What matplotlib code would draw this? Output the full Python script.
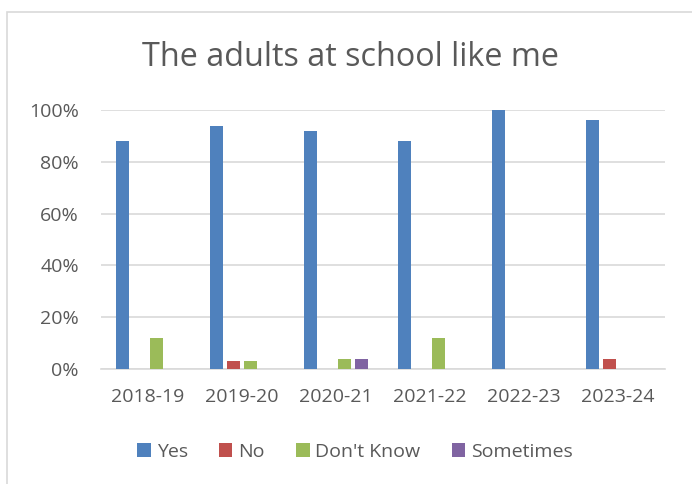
import matplotlib
matplotlib.use("Agg")
import matplotlib.pyplot as plt
import numpy as np
from matplotlib.patches import Rectangle

categories = ["2018-19", "2019-20", "2020-21", "2021-22", "2022-23", "2023-24"]
series_names = ["Yes", "No", "Don't Know", "Sometimes"]
yes = [88, 94, 92, 88, 100, 96]
no = [0, 3, 0, 0, 0, 4]
dont_know = [12, 3, 4, 12, 0, 0]
sometimes = [0, 0, 4, 0, 0, 0]
colors = ["#4f81bd", "#c0504d", "#9bbb59", "#8064a2"]
yticks = [0, 20, 40, 60, 80, 100]

plt.rcParams['font.family'] = ['Open Sans', 'DejaVu Sans']
fig = plt.figure(figsize=(6.92, 4.84), dpi=100)
fig.patches.append(Rectangle((7/692, -0.1), 1.2, 1 - 12/484 + 0.1, transform=fig.transFigure,
                             fill=False, edgecolor="#d9d9d9", linewidth=1.2, figure=fig))
ax = fig.add_axes([101/692, 1 - 369/484, (665-101)/692, (369-110)/484])

x = np.arange(len(categories))
width = 0.14
pitch = 0.18
data = [yes, no, dont_know, sometimes]
for i, (name, vals, c) in enumerate(zip(series_names, data, colors)):
    ax.bar(x + (i - 1.5) * pitch, vals, width, color=c, label=name, zorder=3)

ax.set_xlim(-0.5, len(categories) - 0.5)
ax.set_ylim(0, 100)
ax.set_yticks(yticks)
ax.set_yticklabels([f"{t}%" for t in yticks])
ax.set_xticks(x)
ax.set_xticklabels(categories)
ax.yaxis.grid(True, color="#d9d9d9", linewidth=1.2, zorder=0)
ax.set_axisbelow(True)
for s in ["top", "right", "left"]:
    ax.spines[s].set_visible(False)
ax.spines["bottom"].set_color("#d9d9d9")
ax.spines["bottom"].set_linewidth(1.2)
ax.tick_params(axis="both", length=0, labelsize=14, colors="#595959")
ax.tick_params(axis="x", pad=14)
ax.tick_params(axis="y", pad=16)

fig.text(351/692, 1 - 58/484, "The adults at school like me", ha="center", va="center",
         fontsize=23.3, color="#595959")

leg = fig.legend(loc="center", bbox_to_anchor=(355/692, 1 - 452/484), ncol=4, frameon=False,
                 fontsize=14, handlelength=0.7, handleheight=0.7, columnspacing=1.6,
                 handletextpad=0.3)
for t in leg.get_texts():
    t.set_color("#595959")

fig.savefig("out.png", dpi=100)
